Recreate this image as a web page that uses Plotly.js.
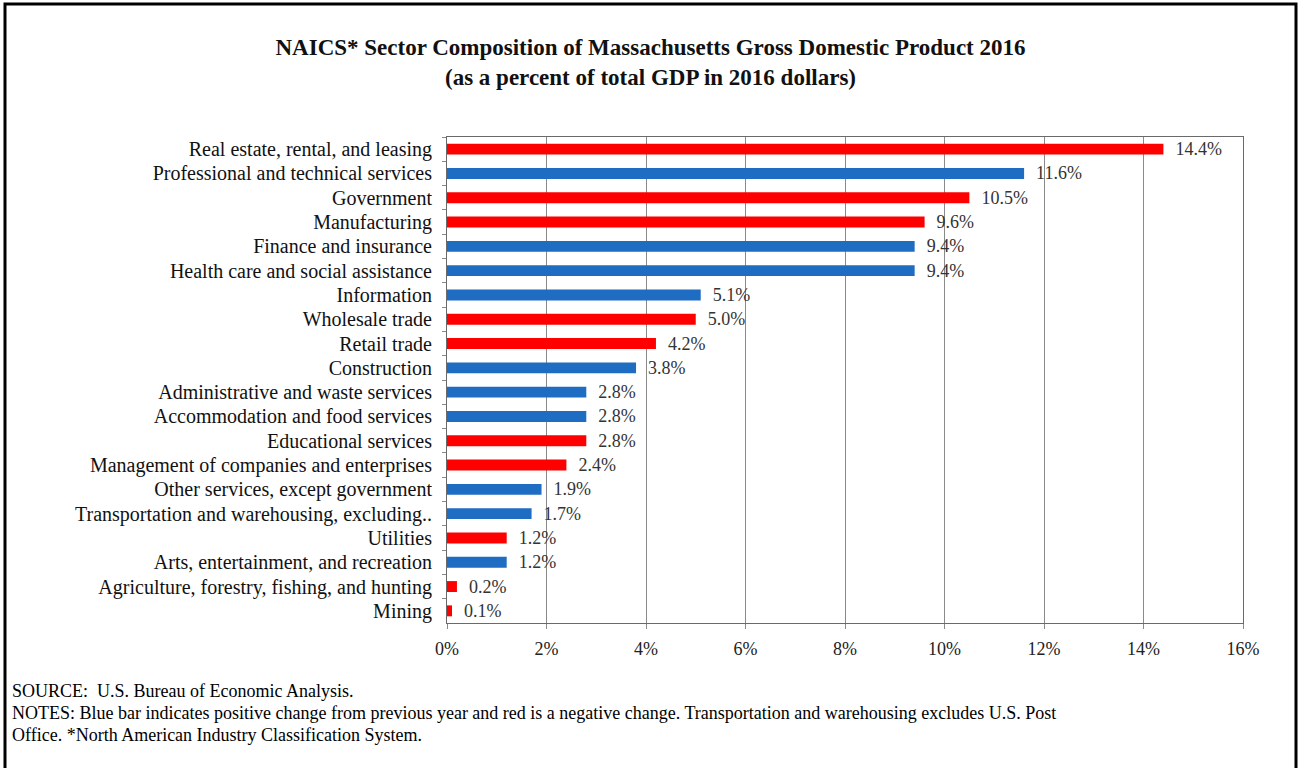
<!DOCTYPE html>
<html>
<head>
<meta charset="utf-8">
<script src="https://cdn.plot.ly/plotly-3.0.1.min.js"></script>
<style>
html,body{margin:0;padding:0;background:#fff;}
#chart{width:1301px;height:768px;}
</style>
</head>
<body>
<div id="chart"></div>
<script>
const categories = [
  "Real estate, rental, and leasing",
  "Professional and technical services",
  "Government",
  "Manufacturing",
  "Finance and insurance",
  "Health care and social assistance",
  "Information",
  "Wholesale trade",
  "Retail trade",
  "Construction",
  "Administrative and waste services",
  "Accommodation and food services",
  "Educational services",
  "Management of companies and enterprises",
  "Other services, except government",
  "Transportation and warehousing, excluding..",
  "Utilities",
  "Arts, entertainment, and recreation",
  "Agriculture, forestry, fishing, and hunting",
  "Mining"
];
const values = [14.4, 11.6, 10.5, 9.6, 9.4, 9.4, 5.1, 5.0, 4.2, 3.8, 2.8, 2.8, 2.8, 2.4, 1.9, 1.7, 1.2, 1.2, 0.2, 0.1];
const change = ["neg","pos","neg","neg","pos","pos","pos","neg","neg","pos","pos","pos","neg","neg","pos","pos","neg","pos","neg","neg"];
const xTickVals = [0, 2, 4, 6, 8, 10, 12, 14, 16];

const RED = "#FF0000", BLUE = "#1F6DC2";
const serif = "Liberation Serif, Times New Roman, serif";

const W = 1301, H = 768;
const M = {l: 447, r: 58, t: 137, b: 145};
const pw = W - M.l - M.r, ph = H - M.t - M.b;
const px = x => (x - M.l) / pw;
const py = y => 1 - (y - M.t) / ph;

const trace = {
  type: "bar",
  orientation: "h",
  y: categories,
  x: values,
  width: 0.45,
  marker: {color: change.map(c => c === "pos" ? BLUE : RED)},
  text: values.map(v => "\u2002" + v.toFixed(1) + "%"),
  textposition: "outside",
  constraintext: "none",
  cliponaxis: false,
  textfont: {family: serif, size: 18, color: "#333"},
  hoverinfo: "skip"
};

const notes = [
  {y: 691, t: "SOURCE:  U.S. Bureau of Economic Analysis."},
  {y: 713, t: "NOTES: Blue bar indicates positive change from previous year and red is a negative change. Transportation and warehousing excludes U.S. Post"},
  {y: 735, t: "Office. *North American Industry Classification System."}
];

const layout = {
  width: W, height: H,
  margin: M,
  paper_bgcolor: "#fff",
  plot_bgcolor: "#fff",
  showlegend: false,
  title: {
    text: "<b>NAICS* Sector Composition of Massachusetts Gross Domestic Product 2016</b><br><b>(as a percent of total GDP in 2016 dollars)</b>",
    font: {family: serif, size: 23, color: "#111"},
    xref: "container", x: 0.5, xanchor: "center",
    yref: "container", y: 1 - 55 / H, yanchor: "top"
  },
  xaxis: {
    range: [0, 16],
    tickvals: xTickVals,
    ticktext: xTickVals.map(v => v + "%"),
    showgrid: true, gridcolor: "#8a8a8a", gridwidth: 1,
    showline: true, linecolor: "#6a6a6a", linewidth: 1, mirror: true,
    ticks: "outside", ticklen: 5, tickcolor: "#8a8a8a",
    ticklabelstandoff: 4,
    tickfont: {family: serif, size: 18, color: "#222"},
    zeroline: false, fixedrange: true
  },
  yaxis: {
    type: "category",
    autorange: "reversed",
    showline: true, linecolor: "#6a6a6a", linewidth: 1, mirror: true,
    ticks: "outside", ticklen: 4, tickcolor: "#8a8a8a", tickson: "boundaries",
    ticklabelstandoff: 10,
    tickfont: {family: serif, size: 20, color: "#111"},
    showgrid: false, fixedrange: true
  },
  annotations: notes.map(n => ({
    xref: "paper", yref: "paper",
    x: px(10), y: py(n.y), xanchor: "left", yanchor: "middle",
    text: n.t, showarrow: false,
    font: {family: serif, size: 18, color: "#000"}
  })),
  shapes: [{
    type: "rect", xref: "paper", yref: "paper",
    x0: px(5), x1: px(1296), y0: py(4), y1: py(775),
    line: {color: "#000", width: 3}, fillcolor: "rgba(0,0,0,0)", layer: "above"
  }]
};

Plotly.newPlot("chart", [trace], layout, {staticPlot: true, displayModeBar: false});
</script>
</body>
</html>
